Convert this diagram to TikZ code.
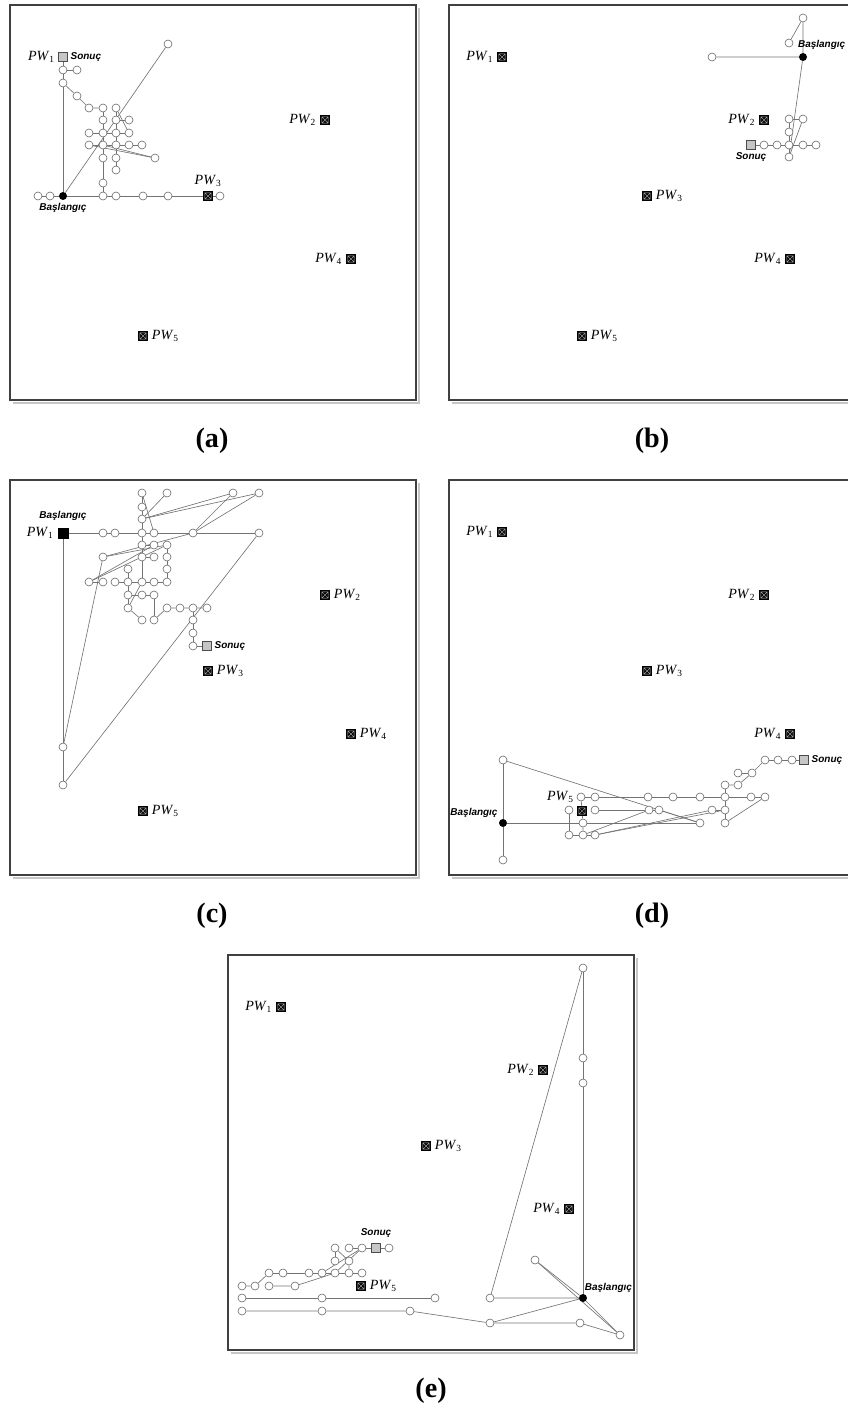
\documentclass[tikz,border=0pt]{standalone}
\usepackage{fontspec}
\setmainfont{Liberation Serif}
\newfontfamily\etifont{Liberation Sans}
\usetikzlibrary{backgrounds}
\newcommand{\pw}[1]{\textit{PW}\textsubscript{#1}}
\begin{document}
\begin{tikzpicture}[x=0.03cm, y=-0.03cm, label distance=2pt,
    linea/.style={draw=black!55, line width=0.55pt},
    nodo/.style={circle, draw=black!60, fill=white, line width=0.5pt, minimum size=0.24cm, inner sep=0pt},
    inizio/.style={circle, fill=black, minimum size=0.24cm, inner sep=0pt},
    pozzo/.style={rectangle, fill=black, minimum size=0.3cm, inner sep=0pt,
      path picture={\draw[gray!55, line width=0.3pt]
        ([shift={(1.6pt,1.6pt)}]path picture bounding box.south west) rectangle ([shift={(-1.6pt,-1.6pt)}]path picture bounding box.north east)
        ([shift={(1.6pt,1.6pt)}]path picture bounding box.south west) -- ([shift={(-1.6pt,-1.6pt)}]path picture bounding box.north east)
        ([shift={(1.6pt,-1.6pt)}]path picture bounding box.north west) -- ([shift={(-1.6pt,1.6pt)}]path picture bounding box.south east);}},
    fine/.style={rectangle, draw=black!70, fill=gray!45, line width=0.6pt, minimum size=0.25cm, inner sep=0pt},
    partenza/.style={rectangle, fill=black, minimum size=0.33cm, inner sep=0pt},
    etich/.style={font=\etifont\bfseries\itshape\fontsize{8.5}{9}\selectfont, inner sep=0.5pt},
    pwlab/.style={font=\fontsize{12}{13}\selectfont, inner sep=1pt},
    cornice/.style={draw=black!75, line width=2pt},
    ombra/.style={draw=gray!45, line width=2.5pt},
    titolo/.style={font=\bfseries\fontsize{24}{26}\selectfont}]

  \useasboundingbox (0,0) rectangle (848,1411);

  % Pannello (a)
  \begin{scope}[shift={(10,5)}]
    \draw[ombra] (3,398) -- (409,398) -- (409,3);
    \draw[cornice] (0,0) rectangle (406,395);
    % Pozzi
    \node[fine, label={[pwlab]left:\pw{1}}, label={[etich]right:Sonuç}] (aS) at (53,52) {};
    \node[pozzo, label={[pwlab]left:\pw{2}}] (apw2) at (315,115) {};
    \node[pozzo, label={[pwlab]above:\pw{3}}] (apw3) at (198,191) {};
    \node[pozzo, label={[pwlab]left:\pw{4}}] (apw4) at (341,254) {};
    \node[pozzo, label={[pwlab]right:\pw{5}}] (apw5) at (133,331) {};
    \node[inizio, label={[etich]below:Başlangıç}] (aB) at (53,191) {};
    % Nodi del percorso
    \node[nodo] (a1) at (53,65) {};
    \node[nodo] (a2) at (67,65) {};
    \node[nodo] (a3) at (53,78) {};
    \node[nodo] (a4) at (67,91) {};
    \node[nodo] (a5) at (79,103) {};
    \node[nodo] (a6) at (93,103) {};
    \node[nodo] (a7) at (106,103) {};
    \node[nodo] (a8) at (93,115) {};
    \node[nodo] (a9) at (106,115) {};
    \node[nodo] (a10) at (119,115) {};
    \node[nodo] (a11) at (79,128) {};
    \node[nodo] (a12) at (93,128) {};
    \node[nodo] (a13) at (106,128) {};
    \node[nodo] (a14) at (119,128) {};
    \node[nodo] (a15) at (79,140) {};
    \node[nodo] (a16) at (93,140) {};
    \node[nodo] (a17) at (106,140) {};
    \node[nodo] (a18) at (119,140) {};
    \node[nodo] (a19) at (132,140) {};
    \node[nodo] (a20) at (93,153) {};
    \node[nodo] (a21) at (106,153) {};
    \node[nodo] (a22) at (145,153) {};
    \node[nodo] (a23) at (106,165) {};
    \node[nodo] (a24) at (93,178) {};
    \node[nodo] (a25) at (28,191) {};
    \node[nodo] (a26) at (40,191) {};
    \node[nodo] (a27) at (93,191) {};
    \node[nodo] (a28) at (106,191) {};
    \node[nodo] (a29) at (133,191) {};
    \node[nodo] (a30) at (158,191) {};
    \node[nodo] (a31) at (210,191) {};
    \node[nodo] (a32) at (158,39) {};
    % Collegamenti
    \begin{scope}[on background layer]
      \draw[linea] (aS) -- (a1) -- (a3) -- (aB);
      \draw[linea] (a1) -- (a2);
      \draw[linea] (a3) -- (a4) -- (a5) -- (a6);
      \draw[linea] (a6) -- (a8) -- (a12) -- (a16) -- (a20) -- (a24) -- (a27);
      \draw[linea] (a7) -- (a9) -- (a13) -- (a17) -- (a21) -- (a23);
      \draw[linea] (a7) -- (a14);
      \draw[linea] (a9) -- (a10);
      \draw[linea] (a11) -- (a12) -- (a13) -- (a14);
      \draw[linea] (a15) -- (a16) -- (a17) -- (a18) -- (a19);
      \draw[linea] (a15) -- (a22);
      \draw[linea] (a16) -- (a22);
      \draw[linea] (aB) -- (a32);
      \draw[linea] (a25) -- (a26) -- (aB) -- (a27) -- (a28) -- (a29) -- (a30) -- (apw3) -- (a31);
    \end{scope}
  \end{scope}
  \node[titolo] (ta) at (212,441) {(a)};

  % Pannello (b)
  \begin{scope}[shift={(449,5)}]
    \draw[ombra] (3,398) -- (409,398) -- (409,3);
    \draw[cornice] (0,0) rectangle (406,395);
    % Pozzi
    \node[pozzo, label={[pwlab]left:\pw{1}}] (bpw1) at (53,52) {};
    \node[pozzo, label={[pwlab]left:\pw{2}}] (bpw2) at (315,115) {};
    \node[pozzo, label={[pwlab]right:\pw{3}}] (bpw3) at (198,191) {};
    \node[pozzo, label={[pwlab]left:\pw{4}}] (bpw4) at (341,254) {};
    \node[pozzo, label={[pwlab]right:\pw{5}}] (bpw5) at (133,331) {};
    \node[inizio] (bB) at (354,52) {};
    \node[etich, anchor=east] (bBt) at (397,40) {Başlangıç};
    \node[fine, label={[etich]below:Sonuç}] (bS) at (302,140) {};
    % Nodi del percorso
    \node[nodo] (b1) at (354,13) {};
    \node[nodo] (b2) at (340,38) {};
    \node[nodo] (b3) at (263,52) {};
    \node[nodo] (b4) at (340,114) {};
    \node[nodo] (b5) at (354,114) {};
    \node[nodo] (b6) at (340,127) {};
    \node[nodo] (b7) at (315,140) {};
    \node[nodo] (b8) at (328,140) {};
    \node[nodo] (b9) at (340,140) {};
    \node[nodo] (b10) at (354,140) {};
    \node[nodo] (b11) at (367,140) {};
    \node[nodo] (b12) at (340,152) {};
    % Collegamenti
    \begin{scope}[on background layer]
      \draw[linea] (b2) -- (b1) -- (bB) -- (b3);
      \draw[linea] (bB) -- (b12);
      \draw[linea] (b5) -- (b4) -- (b6) -- (b9) -- (b12);
      \draw[linea] (b5) -- (b12);
      \draw[linea] (bS) -- (b7) -- (b8) -- (b9) -- (b10) -- (b11);
    \end{scope}
  \end{scope}
  \node[titolo] (tb) at (652,441) {(b)};

  % Pannello (c)
  \begin{scope}[shift={(10,480)}]
    \draw[ombra] (3,398) -- (409,398) -- (409,3);
    \draw[cornice] (0,0) rectangle (406,395);
    % Pozzi
    \node[partenza, label={[pwlab]left:\pw{1}}, label={[etich, yshift=3pt]above:Başlangıç}] (cB) at (53,53) {};
    \node[pozzo, label={[pwlab]right:\pw{2}}] (cpw2) at (315,115) {};
    \node[pozzo, label={[pwlab]right:\pw{3}}] (cpw3) at (198,191) {};
    \node[pozzo, label={[pwlab]right:\pw{4}}] (cpw4) at (341,254) {};
    \node[pozzo, label={[pwlab]right:\pw{5}}] (cpw5) at (133,331) {};
    \node[fine, label={[etich]right:Sonuç}] (cS) at (197,166) {};
    % Nodi del percorso
    \node[nodo] (c1) at (132,13) {};
    \node[nodo] (c2) at (157,13) {};
    \node[nodo] (c3) at (223,13) {};
    \node[nodo] (c4) at (249,13) {};
    \node[nodo] (c5) at (132,27) {};
    \node[nodo] (c6) at (132,39) {};
    \node[nodo] (c7) at (93,53) {};
    \node[nodo] (c8) at (105,53) {};
    \node[nodo] (c9) at (132,53) {};
    \node[nodo] (c10) at (144,53) {};
    \node[nodo] (c11) at (183,53) {};
    \node[nodo] (c12) at (249,53) {};
    \node[nodo] (c13) at (132,65) {};
    \node[nodo] (c14) at (144,65) {};
    \node[nodo] (c15) at (157,65) {};
    \node[nodo] (c16) at (93,77) {};
    \node[nodo] (c17) at (132,77) {};
    \node[nodo] (c18) at (144,77) {};
    \node[nodo] (c19) at (157,77) {};
    \node[nodo] (c20) at (118,89) {};
    \node[nodo] (c21) at (157,89) {};
    \node[nodo] (c22) at (79,102) {};
    \node[nodo] (c23) at (93,102) {};
    \node[nodo] (c24) at (105,102) {};
    \node[nodo] (c25) at (118,102) {};
    \node[nodo] (c26) at (132,102) {};
    \node[nodo] (c27) at (144,102) {};
    \node[nodo] (c28) at (157,102) {};
    \node[nodo] (c29) at (118,115) {};
    \node[nodo] (c30) at (132,115) {};
    \node[nodo] (c31) at (144,115) {};
    \node[nodo] (c32) at (118,128) {};
    \node[nodo] (c33) at (157,128) {};
    \node[nodo] (c34) at (170,128) {};
    \node[nodo] (c35) at (183,128) {};
    \node[nodo] (c36) at (197,128) {};
    \node[nodo] (c37) at (132,140) {};
    \node[nodo] (c38) at (144,140) {};
    \node[nodo] (c39) at (183,140) {};
    \node[nodo] (c40) at (183,153) {};
    \node[nodo] (c41) at (183,166) {};
    \node[nodo] (c42) at (53,267) {};
    \node[nodo] (c43) at (53,305) {};
    % Collegamenti
    \begin{scope}[on background layer]
      \draw[linea] (cB) -- (c7) -- (c8) -- (c9) -- (c10) -- (c11) -- (c12);
      \draw[linea] (cB) -- (c42) -- (c43);
      \draw[linea] (c42) -- (c16);
      \draw[linea] (c43) -- (c12);
      \draw[linea] (c1) -- (c5) -- (c6) -- (c9) -- (c13) -- (c17) -- (c26);
      \draw[linea] (c1) -- (c10);
      \draw[linea] (c2) -- (c6);
      \draw[linea] (c6) -- (c3);
      \draw[linea] (c6) -- (c4);
      \draw[linea] (c3) -- (c11);
      \draw[linea] (c4) -- (c11);
      \draw[linea] (c16) -- (c11);
      \draw[linea] (c16) -- (c15);
      \draw[linea] (c22) -- (c15);
      \draw[linea] (c22) -- (c14);
      \draw[linea] (c13) -- (c14);
      \draw[linea] (c17) -- (c18);
      \draw[linea] (c15) -- (c19) -- (c21) -- (c28);
      \draw[linea] (c22) -- (c23);
      \draw[linea] (c24) -- (c25) -- (c26) -- (c27) -- (c28);
      \draw[linea] (c20) -- (c25) -- (c29) -- (c32);
      \draw[linea] (c29) -- (c30) -- (c31) -- (c38);
      \draw[linea] (c26) -- (c32);
      \draw[linea] (c32) -- (c37);
      \draw[linea] (c38) -- (c33) -- (c34) -- (c35) -- (c36);
      \draw[linea] (c35) -- (c39) -- (c40) -- (c41) -- (cS);
    \end{scope}
  \end{scope}
  \node[titolo] (tc) at (212,916) {(c)};

  % Pannello (d)
  \begin{scope}[shift={(449,480)}]
    \draw[ombra] (3,398) -- (409,398) -- (409,3);
    \draw[cornice] (0,0) rectangle (406,395);
    % Pozzi
    \node[pozzo, label={[pwlab]left:\pw{1}}] (dpw1) at (53,52) {};
    \node[pozzo, label={[pwlab]left:\pw{2}}] (dpw2) at (315,115) {};
    \node[pozzo, label={[pwlab]right:\pw{3}}] (dpw3) at (198,191) {};
    \node[pozzo, label={[pwlab]left:\pw{4}}] (dpw4) at (341,254) {};
    \node[pozzo, label={[pwlab]above left:\pw{5}}] (dpw5) at (133,331) {};
    \node[inizio, label={[etich]above left:Başlangıç}] (dB) at (54,343) {};
    \node[fine, label={[etich]right:Sonuç}] (dS) at (355,280) {};
    % Nodi del percorso
    \node[nodo] (dT) at (54,280) {};
    \node[nodo] (dE) at (54,380) {};
    \node[nodo] (d1) at (132,317) {};
    \node[nodo] (d2) at (146,317) {};
    \node[nodo] (d3) at (199,317) {};
    \node[nodo] (d4) at (224,317) {};
    \node[nodo] (d5) at (251,317) {};
    \node[nodo] (d6) at (276,317) {};
    \node[nodo] (d7) at (302,317) {};
    \node[nodo] (d8) at (316,317) {};
    \node[nodo] (d9) at (120,330) {};
    \node[nodo] (d10) at (146,330) {};
    \node[nodo] (d11) at (200,330) {};
    \node[nodo] (d12) at (210,330) {};
    \node[nodo] (d13) at (263,330) {};
    \node[nodo] (d14) at (276,330) {};
    \node[nodo] (d15) at (134,343) {};
    \node[nodo] (d16) at (251,343) {};
    \node[nodo] (d17) at (276,343) {};
    \node[nodo] (d18) at (120,355) {};
    \node[nodo] (d19) at (134,355) {};
    \node[nodo] (d20) at (146,355) {};
    \node[nodo] (d21) at (276,305) {};
    \node[nodo] (d22) at (289,305) {};
    \node[nodo] (d23) at (289,293) {};
    \node[nodo] (d24) at (303,293) {};
    \node[nodo] (d25) at (316,280) {};
    \node[nodo] (d26) at (329,280) {};
    \node[nodo] (d27) at (343,280) {};
    % Collegamenti
    \begin{scope}[on background layer]
      \draw[linea] (dT) -- (dB) -- (dE);
      \draw[linea] (dT) -- (d16);
      \draw[linea] (dB) -- (d15) -- (d16);
      \draw[linea] (d1) -- (d2) -- (d3) -- (d4) -- (d5) -- (d6) -- (d7) -- (d8);
      \draw[linea] (d1) -- (dpw5) -- (d15) -- (d19);
      \draw[linea] (d9) -- (d18);
      \draw[linea] (d18) -- (d19) -- (d20);
      \draw[linea] (d10) -- (d11) -- (d12);
      \draw[linea] (d13) -- (d14);
      \draw[linea] (d20) -- (d13);
      \draw[linea] (d19) -- (d11);
      \draw[linea] (d20) -- (d14);
      \draw[linea] (d12) -- (d16);
      \draw[linea] (d17) -- (d8);
      \draw[linea] (d21) -- (d6) -- (d14) -- (d17);
      \draw[linea] (d21) -- (d22) -- (d24) -- (d25);
      \draw[linea] (d23) -- (d24);
      \draw[linea] (d25) -- (d26) -- (d27) -- (dS);
    \end{scope}
  \end{scope}
  \node[titolo] (td) at (652,916) {(d)};

  % Pannello (e)
  \begin{scope}[shift={(228,955)}]
    \draw[ombra] (3,398) -- (409,398) -- (409,3);
    \draw[cornice] (0,0) rectangle (406,395);
    % Pozzi
    \node[pozzo, label={[pwlab]left:\pw{1}}] (epw1) at (53,52) {};
    \node[pozzo, label={[pwlab]left:\pw{2}}] (epw2) at (315,115) {};
    \node[pozzo, label={[pwlab]right:\pw{3}}] (epw3) at (198,191) {};
    \node[pozzo, label={[pwlab]left:\pw{4}}] (epw4) at (341,254) {};
    \node[pozzo, label={[pwlab]right:\pw{5}}] (epw5) at (133,331) {};
    \node[inizio, label={[etich, xshift=-3pt]above right:Başlangıç}] (eB) at (355,343) {};
    \node[fine, label={[etich, yshift=2pt]above:Sonuç}] (eS) at (148,293) {};
    % Nodi del percorso
    \node[nodo] (eT) at (355,13) {};
    \node[nodo] (e1) at (355,103) {};
    \node[nodo] (e2) at (355,128) {};
    \node[nodo] (e3) at (262,343) {};
    \node[nodo] (e4) at (262,368) {};
    \node[nodo] (e5) at (352,368) {};
    \node[nodo] (e6) at (392,380) {};
    \node[nodo] (e7) at (307,305) {};
    \node[nodo] (e8) at (41,318) {};
    \node[nodo] (e9) at (55,318) {};
    \node[nodo] (e10) at (81,318) {};
    \node[nodo] (e11) at (94,318) {};
    \node[nodo] (e12) at (107,318) {};
    \node[nodo] (e13) at (121,318) {};
    \node[nodo] (e14) at (134,318) {};
    \node[nodo] (e15) at (107,293) {};
    \node[nodo] (e16) at (121,293) {};
    \node[nodo] (e17) at (134,293) {};
    \node[nodo] (e18) at (161,293) {};
    \node[nodo] (e19) at (107,306) {};
    \node[nodo] (e20) at (121,306) {};
    \node[nodo] (e21) at (14,331) {};
    \node[nodo] (e22) at (27,331) {};
    \node[nodo] (e23) at (41,331) {};
    \node[nodo] (e24) at (67,331) {};
    \node[nodo] (e25) at (14,343) {};
    \node[nodo] (e26) at (94,343) {};
    \node[nodo] (e27) at (207,343) {};
    \node[nodo] (e28) at (14,356) {};
    \node[nodo] (e29) at (94,356) {};
    \node[nodo] (e30) at (182,356) {};
    % Collegamenti
    \begin{scope}[on background layer]
      \draw[linea] (eT) -- (e1) -- (e2) -- (eB);
      \draw[linea] (eT) -- (e3) -- (eB);
      \draw[linea] (e7) -- (eB);
      \draw[linea] (e7) -- (e6);
      \draw[linea] (eB) -- (e6);
      \draw[linea] (e4) -- (e5) -- (e6);
      \draw[linea] (e4) -- (eB);
      \draw[linea] (e16) -- (e17) -- (eS) -- (e18);
      \draw[linea] (e15) -- (e19);
      \draw[linea] (e15) -- (e20) -- (e13);
      \draw[linea] (e11) -- (e17);
      \draw[linea] (e12) -- (e17);
      \draw[linea] (e8) -- (e9) -- (e10) -- (e11) -- (e12) -- (e13) -- (e14);
      \draw[linea] (e21) -- (e22) -- (e8);
      \draw[linea] (e23) -- (e24) -- (e12);
      \draw[linea] (e25) -- (e26) -- (e27);
      \draw[linea] (e28) -- (e29) -- (e30) -- (e4);
    \end{scope}
  \end{scope}
  \node[titolo] (te) at (431,1391) {(e)};
\end{tikzpicture}
\end{document}
